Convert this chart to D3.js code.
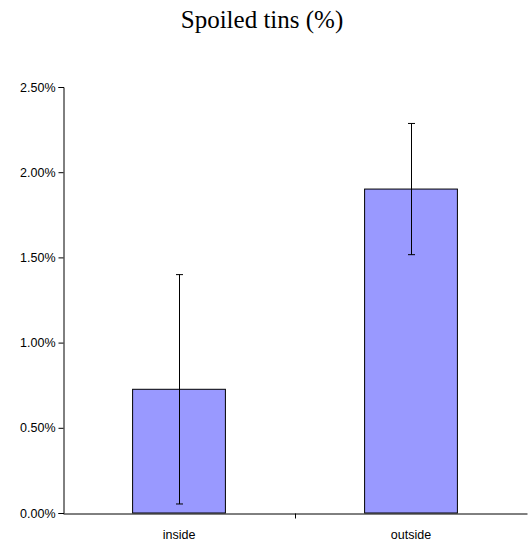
<!DOCTYPE html>
<html><head><meta charset="utf-8">
<script src="https://cdn.jsdelivr.net/npm/d3@7"></script>
<style>body{margin:0;background:#fff}svg{display:block}</style>
</head><body>
<script>
const categories = ["inside", "outside"];
const values = [0.726, 1.901];
const errors = [0.673, 0.385];
const yTicks = [0, 0.5, 1.0, 1.5, 2.0, 2.5];
const title = "Spoiled tins (%)";

const W = 529, H = 541;
const m = {left: 63, right: 2, top: 87, bottom: 28};
const svg = d3.select("body").append("svg").attr("width", W).attr("height", H);

const x = d3.scaleBand().domain(categories).range([m.left, W - m.right]).paddingInner(0).paddingOuter(0);
const y = d3.scaleLinear().domain([0, 2.5]).range([H - m.bottom, m.top]);

svg.append("text").attr("x", 262).attr("y", 28).attr("text-anchor", "middle")
  .style("font-family", "'Liberation Serif','Times New Roman',serif").style("font-size", "25px")
  .text(title);

const bw = x.bandwidth() * 0.4;
svg.selectAll("rect.bar").data(categories).enter().append("rect")
  .attr("x", d => x(d) + x.bandwidth() / 2 - bw / 2)
  .attr("y", (d, i) => y(values[i]))
  .attr("width", bw)
  .attr("height", (d, i) => y(0) - y(values[i]))
  .attr("fill", "#9999FF").attr("stroke", "#000").attr("stroke-width", 1);

// error bars
const eb = svg.append("g").attr("stroke", "#000").attr("stroke-width", 1);
categories.forEach((c, i) => {
  const cx = Math.round(x(c) + x.bandwidth() / 2) + 0.5;
  const hi = y(values[i] + errors[i]), lo = y(values[i] - errors[i]);
  eb.append("line").attr("x1", cx).attr("x2", cx).attr("y1", hi).attr("y2", lo);
  eb.append("line").attr("x1", cx - 3.5).attr("x2", cx + 3.5).attr("y1", hi).attr("y2", hi);
  eb.append("line").attr("x1", cx - 3.5).attr("x2", cx + 3.5).attr("y1", lo).attr("y2", lo);
});

const fmt = d => d.toFixed(2) + "%";
const yAxis = svg.append("g").attr("transform", `translate(${m.left + 0.5},0)`)
  .call(d3.axisLeft(y).tickValues(yTicks).tickFormat(fmt).tickSizeOuter(0).tickSize(5).tickPadding(3));
yAxis.select(".domain").attr("stroke", "#000");
yAxis.selectAll("text").style("font-family", "'Liberation Sans',Arial,sans-serif").style("font-size", "12.5px").attr("fill", "#000");

const xAxis = svg.append("g").attr("transform", `translate(0,${y(0) + 0.5})`)
  .call(d3.axisBottom(x).tickSize(0).tickPadding(17));
xAxis.select(".domain").attr("stroke", "#000");
xAxis.selectAll("text").style("font-family", "'Liberation Sans',Arial,sans-serif").style("font-size", "12.5px").attr("fill", "#000");
// category separator tick marks
xAxis.selectAll("line.sep").data([x(categories[1])]).enter().append("line")
  .attr("x1", d => d + 0.5).attr("x2", d => d + 0.5).attr("y1", 0).attr("y2", 5).attr("stroke", "#000");
</script>
</body></html>
